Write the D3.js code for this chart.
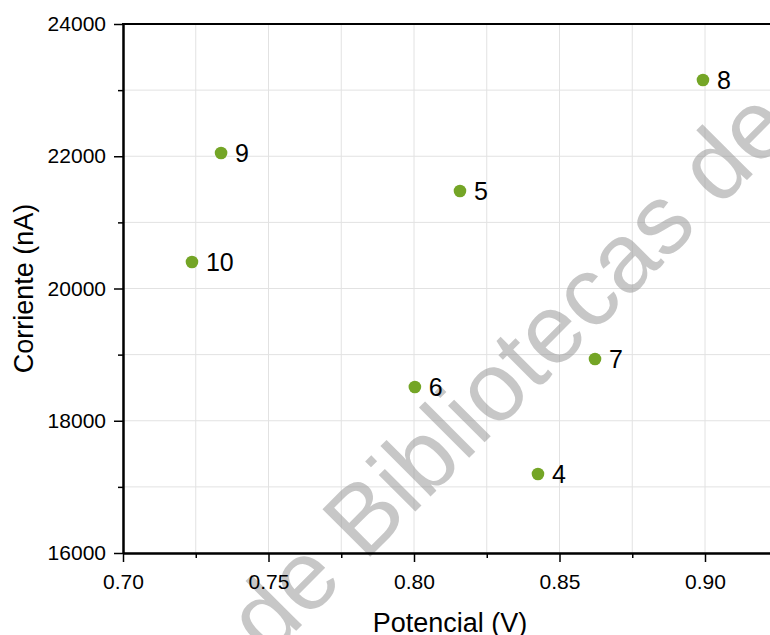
<!DOCTYPE html>
<html>
<head>
<meta charset="utf-8">
<script src="https://cdn.jsdelivr.net/npm/d3@7"></script>
<style>
  html, body { margin: 0; padding: 0; background: #fff; }
  svg { display: block; font-family: "Liberation Sans", Arial, sans-serif; }
</style>
</head>
<body>
<svg id="chart" width="770" height="635"></svg>
<script>
// ---- data ----
const labels   = ["4", "5", "6", "7", "8", "9", "10"];
const potencial = [0.8426, 0.8158, 0.8003, 0.8622, 0.8993, 0.7337, 0.7237];
const corriente = [17195, 21475, 18510, 18934, 23153, 22049, 20401];
const xTicks = [0.70, 0.75, 0.80, 0.85, 0.90];
const yTicks = [16000, 18000, 20000, 22000, 24000];
const watermarkText = "de Bibliotecas de";

// ---- chart ----
const svg = d3.select("#chart");
const x = d3.scaleLinear().domain([0.70, 0.95]).range([123, 850.5]);
const y = d3.scaleLinear().domain([16000, 24000]).range([553, 24]);

const xMinor = d3.range(0.70, 0.926, 0.025);
const yMinor = d3.range(16000, 24001, 1000);

// gridlines
const grid = svg.append("g");
grid.selectAll("line.gx").data(xMinor).join("line")
  .attr("x1", d => x(d)).attr("x2", d => x(d))
  .attr("y1", y(24000)).attr("y2", y(16000))
  .attr("stroke", "#e2e2e2").attr("stroke-width", 1);
grid.selectAll("line.gy").data(yMinor).join("line")
  .attr("x1", x(0.70)).attr("x2", 770)
  .attr("y1", d => y(d)).attr("y2", d => y(d))
  .attr("stroke", "#e2e2e2").attr("stroke-width", 1);

// watermark
svg.append("text")
  .attr("transform", "translate(532,395) rotate(-45)")
  .attr("text-anchor", "middle")
  .attr("font-size", 98)
  .attr("fill", "#909090")
  .attr("fill-opacity", 0.5)
  .text(watermarkText);

// axes
const fmtX = d3.format(".2f");
const xAxis = d3.axisBottom(x).tickValues(xTicks).tickFormat(fmtX).tickSize(9).tickSizeOuter(0).tickPadding(12);
const xMinorAxis = d3.axisBottom(x).tickValues(xMinor.filter((d, i) => i % 2 === 1)).tickFormat("").tickSize(5).tickSizeOuter(0);
const yAxis = d3.axisLeft(y).tickValues(yTicks).tickFormat(d3.format("d")).tickSize(9).tickSizeOuter(0).tickPadding(8);
const yMinorAxis = d3.axisLeft(y).tickValues(yMinor.filter((d, i) => i % 2 === 1)).tickFormat("").tickSize(5).tickSizeOuter(0);

function styleAxis(g) {
  g.selectAll("path").attr("stroke", "#000").attr("stroke-width", 2);
  g.selectAll("line").attr("stroke", "#000").attr("stroke-width", 1.5);
  g.selectAll("text").attr("font-size", 21).attr("fill", "#000")
   .attr("font-family", "'Liberation Sans', Arial, sans-serif");
}

svg.append("g").attr("transform", `translate(0,${y(16000)})`).call(xMinorAxis).call(styleAxis);
svg.append("g").attr("transform", `translate(0,${y(16000)})`).call(xAxis).call(styleAxis);
svg.append("g").attr("transform", `translate(${x(0.70)},0)`).call(yMinorAxis).call(styleAxis);
svg.append("g").attr("transform", `translate(${x(0.70)},0)`).call(yAxis).call(styleAxis);

// top frame line
svg.append("line")
  .attr("x1", x(0.70) - 1).attr("x2", 770)
  .attr("y1", y(24000)).attr("y2", y(24000))
  .attr("stroke", "#000").attr("stroke-width", 2);

// axis titles
svg.append("text")
  .attr("x", 450).attr("y", 632)
  .attr("text-anchor", "middle").attr("font-size", 27)
  .text("Potencial (V)");
svg.append("text")
  .attr("transform", `translate(33,${(y(16000) + y(24000)) / 2}) rotate(-90)`)
  .attr("text-anchor", "middle").attr("font-size", 27)
  .text("Corriente (nA)");

// points
const pts = labels.map((l, i) => ({ l, px: potencial[i], c: corriente[i] }));
svg.selectAll("circle.pt").data(pts).join("circle")
  .attr("cx", d => x(d.px)).attr("cy", d => y(d.c))
  .attr("r", 6.3).attr("fill", "#74a526");
svg.selectAll("text.lbl").data(pts).join("text")
  .attr("x", d => x(d.px) + 14).attr("y", d => y(d.c) + 9)
  .attr("font-size", 25).attr("fill", "#000")
  .text(d => d.l);
</script>
</body>
</html>
